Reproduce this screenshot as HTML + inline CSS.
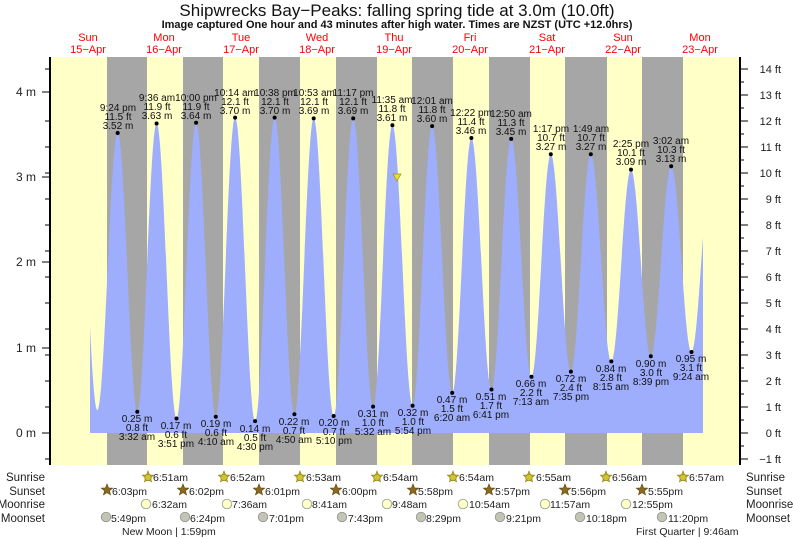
<!DOCTYPE html>
<html><head><meta charset="utf-8"><style>
html,body{margin:0;padding:0;background:#fff;}
svg{display:block;font-family:"Liberation Sans",sans-serif;}
.hl text,.ll text{font-size:10px;fill:#111;text-anchor:middle;}
.r text{font-size:10.5px;fill:#222;}
</style></head><body>
<svg width="793" height="539" viewBox="0 0 793 539" xmlns="http://www.w3.org/2000/svg">
<defs>
<clipPath id="cp"><rect x="90" y="57" width="613" height="376"/></clipPath>
</defs>
<rect x="0" y="0" width="793" height="539" fill="#fff"/>
<text x="397" y="16" font-size="17" text-anchor="middle" fill="#111">Shipwrecks Bay−Peaks: falling  spring tide at 3.0m (10.0ft)</text>
<text x="397" y="28" font-size="11" font-weight="bold" text-anchor="middle" fill="#111">Image captured One hour and 43 minutes after high water. Times are NZST (UTC +12.0hrs)</text>
<g font-size="11" fill="#f00" text-anchor="middle">
<text x="88" y="41">Sun</text><text x="88" y="53">15−Apr</text>
<text x="164" y="41">Mon</text><text x="164" y="53">16−Apr</text>
<text x="241" y="41">Tue</text><text x="241" y="53">17−Apr</text>
<text x="317" y="41">Wed</text><text x="317" y="53">18−Apr</text>
<text x="394" y="41">Thu</text><text x="394" y="53">19−Apr</text>
<text x="470" y="41">Fri</text><text x="470" y="53">20−Apr</text>
<text x="547" y="41">Sat</text><text x="547" y="53">21−Apr</text>
<text x="623" y="41">Sun</text><text x="623" y="53">22−Apr</text>
<text x="700" y="41">Mon</text><text x="700" y="53">23−Apr</text>
</g>
<rect x="50" y="57" width="690" height="408" fill="#ffffc8"/>
<g fill="#a6a6a6">
<rect x="107" y="57" width="40" height="408"/><rect x="183" y="57" width="40" height="408"/>
<rect x="259" y="57" width="41" height="408"/><rect x="336" y="57" width="41" height="408"/>
<rect x="412" y="57" width="41" height="408"/><rect x="489" y="57" width="41" height="408"/>
<rect x="565" y="57" width="42" height="408"/><rect x="642" y="57" width="41" height="408"/>
</g>
<path clip-path="url(#cp)" fill="#9eaefc" d="M77.5,433 L77.5,134.6
C84.7,134.6 90.1,410 97.3,410
C104.7,410 110.3,133 117.7,133
C124.8,133 130.2,411.7 137.3,411.7
C144.3,411.7 149.6,123.5 156.6,123.5
C163.8,123.5 169.3,418.5 176.5,418.5
C183.6,418.5 189,122.7 196.1,122.7
C203.3,122.7 208.6,416.8 215.8,416.8
C222.8,416.8 228.1,117.6 235.1,117.6
C242.4,117.6 247.8,421.1 255.1,421.1
C262.2,421.1 267.5,117.6 274.6,117.6
C281.8,117.6 287.2,414.2 294.4,414.2
C301.4,414.2 306.7,118.4 313.7,118.4
C321,118.4 326.4,416 333.7,416
C340.8,416 346.1,118.4 353.2,118.4
C360.4,118.4 365.9,406.6 373.1,406.6
C380.1,406.6 385.4,125.2 392.4,125.2
C399.8,125.2 405.2,405.7 412.6,405.7
C419.7,405.7 425,126.1 432.1,126.1
C439.4,126.1 444.9,392.9 452.2,392.9
C459.2,392.9 464.4,138 471.4,138
C478.7,138 484.2,389.5 491.5,389.5
C498.7,389.5 504,138.9 511.2,138.9
C518.6,138.9 524.1,376.7 531.5,376.7
C538.5,376.7 543.8,154.2 550.8,154.2
C558.1,154.2 563.6,371.6 570.9,371.6
C578.1,371.6 583.6,154.2 590.8,154.2
C598.3,154.2 603.8,361.4 611.3,361.4
C618.5,361.4 623.8,169.6 631,169.6
C638.2,169.6 643.6,356.3 650.8,356.3
C658.2,356.3 663.8,166.2 671.2,166.2
C678.6,166.2 684.1,352 691.5,352
C698.7,352 704,168.7 711.2,168.7
L711.2,433 Z"/>
<g stroke="#000" stroke-width="1">
<line x1="42" y1="92" x2="50" y2="92"/><line x1="42" y1="177" x2="50" y2="177"/><line x1="42" y1="262" x2="50" y2="262"/><line x1="42" y1="348" x2="50" y2="348"/><line x1="42" y1="433" x2="50" y2="433"/>
<line x1="45" y1="459" x2="50" y2="459"/><line x1="45" y1="407" x2="50" y2="407"/><line x1="45" y1="381" x2="50" y2="381"/><line x1="45" y1="355" x2="50" y2="355"/><line x1="45" y1="329" x2="50" y2="329"/><line x1="45" y1="303" x2="50" y2="303"/><line x1="45" y1="277" x2="50" y2="277"/><line x1="45" y1="251" x2="50" y2="251"/><line x1="45" y1="225" x2="50" y2="225"/><line x1="45" y1="199" x2="50" y2="199"/><line x1="45" y1="173" x2="50" y2="173"/><line x1="45" y1="147" x2="50" y2="147"/><line x1="45" y1="121" x2="50" y2="121"/><line x1="45" y1="69" x2="50" y2="69"/>
<line x1="740" y1="459" x2="748" y2="459"/><line x1="740" y1="433" x2="748" y2="433"/><line x1="740" y1="407" x2="748" y2="407"/><line x1="740" y1="381" x2="748" y2="381"/><line x1="740" y1="355" x2="748" y2="355"/><line x1="740" y1="329" x2="748" y2="329"/><line x1="740" y1="303" x2="748" y2="303"/><line x1="740" y1="277" x2="748" y2="277"/><line x1="740" y1="251" x2="748" y2="251"/><line x1="740" y1="225" x2="748" y2="225"/><line x1="740" y1="199" x2="748" y2="199"/><line x1="740" y1="173" x2="748" y2="173"/><line x1="740" y1="147" x2="748" y2="147"/><line x1="740" y1="121" x2="748" y2="121"/><line x1="740" y1="95" x2="748" y2="95"/><line x1="740" y1="69" x2="748" y2="69"/>
<line x1="740" y1="446" x2="744" y2="446"/><line x1="740" y1="420" x2="744" y2="420"/><line x1="740" y1="394" x2="744" y2="394"/><line x1="740" y1="368" x2="744" y2="368"/><line x1="740" y1="342" x2="744" y2="342"/><line x1="740" y1="316" x2="744" y2="316"/><line x1="740" y1="290" x2="744" y2="290"/><line x1="740" y1="264" x2="744" y2="264"/><line x1="740" y1="238" x2="744" y2="238"/><line x1="740" y1="212" x2="744" y2="212"/><line x1="740" y1="186" x2="744" y2="186"/><line x1="740" y1="160" x2="744" y2="160"/><line x1="740" y1="134" x2="744" y2="134"/><line x1="740" y1="108" x2="744" y2="108"/><line x1="740" y1="82" x2="744" y2="82"/>
</g>
<line x1="50" y1="57" x2="50" y2="465" stroke="#000" stroke-width="2"/>
<line x1="740" y1="57" x2="740" y2="465" stroke="#000" stroke-width="2"/>
<g font-size="12" fill="#222" text-anchor="end">
<text x="36" y="96">4 m</text><text x="36" y="181">3 m</text><text x="36" y="266">2 m</text><text x="36" y="352">1 m</text><text x="36" y="437">0 m</text>
</g>
<g font-size="11" fill="#222" text-anchor="end">
<text x="781" y="73">14 ft</text><text x="781" y="99">13 ft</text><text x="781" y="125">12 ft</text><text x="781" y="151">11 ft</text><text x="781" y="177">10 ft</text><text x="781" y="203">9 ft</text><text x="781" y="229">8 ft</text><text x="781" y="255">7 ft</text><text x="781" y="281">6 ft</text><text x="781" y="307">5 ft</text><text x="781" y="333">4 ft</text><text x="781" y="359">3 ft</text><text x="781" y="385">2 ft</text><text x="781" y="411">1 ft</text><text x="781" y="437">0 ft</text><text x="781" y="463">−1 ft</text>
</g>
<g fill="#000">
<circle cx="117.7" cy="133" r="2"/><circle cx="137.3" cy="411.7" r="2"/><circle cx="156.6" cy="123.5" r="2"/><circle cx="176.5" cy="418.5" r="2"/><circle cx="196.1" cy="122.7" r="2"/><circle cx="215.8" cy="416.8" r="2"/><circle cx="235.1" cy="117.6" r="2"/><circle cx="255.1" cy="421.1" r="2"/><circle cx="274.6" cy="117.6" r="2"/><circle cx="294.4" cy="414.2" r="2"/><circle cx="313.7" cy="118.4" r="2"/><circle cx="333.7" cy="416" r="2"/><circle cx="353.2" cy="118.4" r="2"/><circle cx="373.1" cy="406.6" r="2"/><circle cx="392.4" cy="125.2" r="2"/><circle cx="412.6" cy="405.7" r="2"/><circle cx="432.1" cy="126.1" r="2"/><circle cx="452.2" cy="392.9" r="2"/><circle cx="471.4" cy="138" r="2"/><circle cx="491.5" cy="389.5" r="2"/><circle cx="511.2" cy="138.9" r="2"/><circle cx="531.5" cy="376.7" r="2"/><circle cx="550.8" cy="154.2" r="2"/><circle cx="570.9" cy="371.6" r="2"/><circle cx="590.8" cy="154.2" r="2"/><circle cx="611.3" cy="361.4" r="2"/><circle cx="631" cy="169.6" r="2"/><circle cx="650.8" cy="356.3" r="2"/><circle cx="671.2" cy="166.2" r="2"/><circle cx="691.5" cy="352" r="2"/>
</g>
<polygon points="393,174 401,174 397,181" fill="#e8e030" stroke="#a09010" stroke-width="0.7"/>
<g class="hl">
<text x="118" y="111">9:24 pm</text><text x="118" y="120">11.5 ft</text><text x="118" y="129">3.52 m</text>
<text x="157" y="101">9:36 am</text><text x="157" y="110">11.9 ft</text><text x="157" y="119">3.63 m</text>
<text x="196" y="101">10:00 pm</text><text x="196" y="110">11.9 ft</text><text x="196" y="119">3.64 m</text>
<text x="235" y="96">10:14 am</text><text x="235" y="105">12.1 ft</text><text x="235" y="114">3.70 m</text>
<text x="275" y="96">10:38 pm</text><text x="275" y="105">12.1 ft</text><text x="275" y="114">3.70 m</text>
<text x="314" y="96">10:53 am</text><text x="314" y="105">12.1 ft</text><text x="314" y="114">3.69 m</text>
<text x="353" y="96">11:17 pm</text><text x="353" y="105">12.1 ft</text><text x="353" y="114">3.69 m</text>
<text x="392" y="103">11:35 am</text><text x="392" y="112">11.8 ft</text><text x="392" y="121">3.61 m</text>
<text x="432" y="104">12:01 am</text><text x="432" y="113">11.8 ft</text><text x="432" y="122">3.60 m</text>
<text x="471" y="116">12:22 pm</text><text x="471" y="125">11.4 ft</text><text x="471" y="134">3.46 m</text>
<text x="511" y="117">12:50 am</text><text x="511" y="126">11.3 ft</text><text x="511" y="135">3.45 m</text>
<text x="551" y="132">1:17 pm</text><text x="551" y="141">10.7 ft</text><text x="551" y="150">3.27 m</text>
<text x="591" y="132">1:49 am</text><text x="591" y="141">10.7 ft</text><text x="591" y="150">3.27 m</text>
<text x="631" y="147">2:25 pm</text><text x="631" y="156">10.1 ft</text><text x="631" y="165">3.09 m</text>
<text x="671" y="144">3:02 am</text><text x="671" y="153">10.3 ft</text><text x="671" y="162">3.13 m</text>
</g>
<g class="ll">
<text x="137" y="422">0.25 m</text><text x="137" y="431">0.8 ft</text><text x="137" y="440">3:32 am</text>
<text x="176" y="429">0.17 m</text><text x="176" y="438">0.6 ft</text><text x="176" y="447">3:51 pm</text>
<text x="216" y="427">0.19 m</text><text x="216" y="436">0.6 ft</text><text x="216" y="445">4:10 am</text>
<text x="255" y="432">0.14 m</text><text x="255" y="441">0.5 ft</text><text x="255" y="450">4:30 pm</text>
<text x="294" y="425">0.22 m</text><text x="294" y="434">0.7 ft</text><text x="294" y="443">4:50 am</text>
<text x="334" y="426">0.20 m</text><text x="334" y="435">0.7 ft</text><text x="334" y="444">5:10 pm</text>
<text x="373" y="417">0.31 m</text><text x="373" y="426">1.0 ft</text><text x="373" y="435">5:32 am</text>
<text x="413" y="416">0.32 m</text><text x="413" y="425">1.0 ft</text><text x="413" y="434">5:54 pm</text>
<text x="452" y="403">0.47 m</text><text x="452" y="412">1.5 ft</text><text x="452" y="421">6:20 am</text>
<text x="491" y="400">0.51 m</text><text x="491" y="409">1.7 ft</text><text x="491" y="418">6:41 pm</text>
<text x="531" y="387">0.66 m</text><text x="531" y="396">2.2 ft</text><text x="531" y="405">7:13 am</text>
<text x="571" y="382">0.72 m</text><text x="571" y="391">2.4 ft</text><text x="571" y="400">7:35 pm</text>
<text x="611" y="372">0.84 m</text><text x="611" y="381">2.8 ft</text><text x="611" y="390">8:15 am</text>
<text x="651" y="367">0.90 m</text><text x="651" y="376">3.0 ft</text><text x="651" y="385">8:39 pm</text>
<text x="691" y="362">0.95 m</text><text x="691" y="371">3.1 ft</text><text x="691" y="380">9:24 am</text>
</g>
<g font-size="11.5" fill="#222">
<g text-anchor="end"><text x="45" y="481">Sunrise</text><text x="45" y="495">Sunset</text><text x="45" y="508">Moonrise</text><text x="45" y="522">Moonset</text></g>
<text x="746" y="481">Sunrise</text><text x="746" y="495">Sunset</text><text x="746" y="508">Moonrise</text><text x="746" y="522">Moonset</text>
</g>
<g fill="#cfc430" stroke="#8a7a10" stroke-width="0.6">
<g transform="translate(148,477)"><polygon points="0,-6 1.53,-2.1 5.71,-1.85 2.47,0.8 3.53,4.85 0,2.6 -3.53,4.85 -2.47,0.8 -5.71,-1.85 -1.53,-2.1"/><circle cx="0" cy="0.5" r="3.3"/></g>
<g transform="translate(224,477)"><polygon points="0,-6 1.53,-2.1 5.71,-1.85 2.47,0.8 3.53,4.85 0,2.6 -3.53,4.85 -2.47,0.8 -5.71,-1.85 -1.53,-2.1"/><circle cx="0" cy="0.5" r="3.3"/></g>
<g transform="translate(300,477)"><polygon points="0,-6 1.53,-2.1 5.71,-1.85 2.47,0.8 3.53,4.85 0,2.6 -3.53,4.85 -2.47,0.8 -5.71,-1.85 -1.53,-2.1"/><circle cx="0" cy="0.5" r="3.3"/></g>
<g transform="translate(377,477)"><polygon points="0,-6 1.53,-2.1 5.71,-1.85 2.47,0.8 3.53,4.85 0,2.6 -3.53,4.85 -2.47,0.8 -5.71,-1.85 -1.53,-2.1"/><circle cx="0" cy="0.5" r="3.3"/></g>
<g transform="translate(453,477)"><polygon points="0,-6 1.53,-2.1 5.71,-1.85 2.47,0.8 3.53,4.85 0,2.6 -3.53,4.85 -2.47,0.8 -5.71,-1.85 -1.53,-2.1"/><circle cx="0" cy="0.5" r="3.3"/></g>
<g transform="translate(529,477)"><polygon points="0,-6 1.53,-2.1 5.71,-1.85 2.47,0.8 3.53,4.85 0,2.6 -3.53,4.85 -2.47,0.8 -5.71,-1.85 -1.53,-2.1"/><circle cx="0" cy="0.5" r="3.3"/></g>
<g transform="translate(606,477)"><polygon points="0,-6 1.53,-2.1 5.71,-1.85 2.47,0.8 3.53,4.85 0,2.6 -3.53,4.85 -2.47,0.8 -5.71,-1.85 -1.53,-2.1"/><circle cx="0" cy="0.5" r="3.3"/></g>
<g transform="translate(683,477)"><polygon points="0,-6 1.53,-2.1 5.71,-1.85 2.47,0.8 3.53,4.85 0,2.6 -3.53,4.85 -2.47,0.8 -5.71,-1.85 -1.53,-2.1"/><circle cx="0" cy="0.5" r="3.3"/></g>
</g>
<g fill="#8b6a20" stroke="#5a4510" stroke-width="0.6">
<polygon transform="translate(107,490)" points="0,-6 1.53,-2.1 5.71,-1.85 2.47,0.8 3.53,4.85 0,2.6 -3.53,4.85 -2.47,0.8 -5.71,-1.85 -1.53,-2.1"/>
<polygon transform="translate(183,490)" points="0,-6 1.53,-2.1 5.71,-1.85 2.47,0.8 3.53,4.85 0,2.6 -3.53,4.85 -2.47,0.8 -5.71,-1.85 -1.53,-2.1"/>
<polygon transform="translate(259,490)" points="0,-6 1.53,-2.1 5.71,-1.85 2.47,0.8 3.53,4.85 0,2.6 -3.53,4.85 -2.47,0.8 -5.71,-1.85 -1.53,-2.1"/>
<polygon transform="translate(336,490)" points="0,-6 1.53,-2.1 5.71,-1.85 2.47,0.8 3.53,4.85 0,2.6 -3.53,4.85 -2.47,0.8 -5.71,-1.85 -1.53,-2.1"/>
<polygon transform="translate(413,490)" points="0,-6 1.53,-2.1 5.71,-1.85 2.47,0.8 3.53,4.85 0,2.6 -3.53,4.85 -2.47,0.8 -5.71,-1.85 -1.53,-2.1"/>
<polygon transform="translate(489,490)" points="0,-6 1.53,-2.1 5.71,-1.85 2.47,0.8 3.53,4.85 0,2.6 -3.53,4.85 -2.47,0.8 -5.71,-1.85 -1.53,-2.1"/>
<polygon transform="translate(565,490)" points="0,-6 1.53,-2.1 5.71,-1.85 2.47,0.8 3.53,4.85 0,2.6 -3.53,4.85 -2.47,0.8 -5.71,-1.85 -1.53,-2.1"/>
<polygon transform="translate(642,490)" points="0,-6 1.53,-2.1 5.71,-1.85 2.47,0.8 3.53,4.85 0,2.6 -3.53,4.85 -2.47,0.8 -5.71,-1.85 -1.53,-2.1"/>
</g>
<g fill="#ffffc8" stroke="#888" stroke-width="0.7">
<circle cx="146" cy="504" r="4.8"/><circle cx="227" cy="504" r="4.8"/><circle cx="307" cy="504" r="4.8"/><circle cx="387" cy="504" r="4.8"/><circle cx="463" cy="504" r="4.8"/><circle cx="545" cy="504" r="4.8"/><circle cx="626" cy="504" r="4.8"/>
</g>
<g fill="#c4c4b4" stroke="#888" stroke-width="0.7">
<circle cx="106" cy="517" r="4.8"/><circle cx="185" cy="517" r="4.8"/><circle cx="263" cy="517" r="4.8"/><circle cx="342" cy="517" r="4.8"/><circle cx="421" cy="517" r="4.8"/><circle cx="500" cy="517" r="4.8"/><circle cx="580" cy="517" r="4.8"/><circle cx="662" cy="517" r="4.8"/>
</g>
<g class="r">
<text x="153" y="481">6:51am</text><text x="230" y="481">6:52am</text><text x="306" y="481">6:53am</text><text x="383" y="481">6:54am</text><text x="459" y="481">6:54am</text><text x="536" y="481">6:55am</text><text x="612" y="481">6:56am</text><text x="689" y="481">6:57am</text>
<text x="112" y="495">6:03pm</text><text x="189" y="495">6:02pm</text><text x="265" y="495">6:01pm</text><text x="342" y="495">6:00pm</text><text x="418" y="495">5:58pm</text><text x="495" y="495">5:57pm</text><text x="571" y="495">5:56pm</text><text x="648" y="495">5:55pm</text>
<text x="152" y="508">6:32am</text><text x="232" y="508">7:36am</text><text x="312" y="508">8:41am</text><text x="392" y="508">9:48am</text><text x="469" y="508">10:54am</text><text x="550" y="508">11:57am</text><text x="632" y="508">12:55pm</text>
<text x="111" y="522">5:49pm</text><text x="190" y="522">6:24pm</text><text x="269" y="522">7:01pm</text><text x="348" y="522">7:43pm</text><text x="426" y="522">8:29pm</text><text x="506" y="522">9:21pm</text><text x="586" y="522">10:18pm</text><text x="668" y="522">11:20pm</text>
<text x="122" y="535" font-size="10">New Moon | 1:59pm</text>
<text x="636" y="535" font-size="10">First Quarter | 9:46am</text>
</g>
</svg>
</body></html>
